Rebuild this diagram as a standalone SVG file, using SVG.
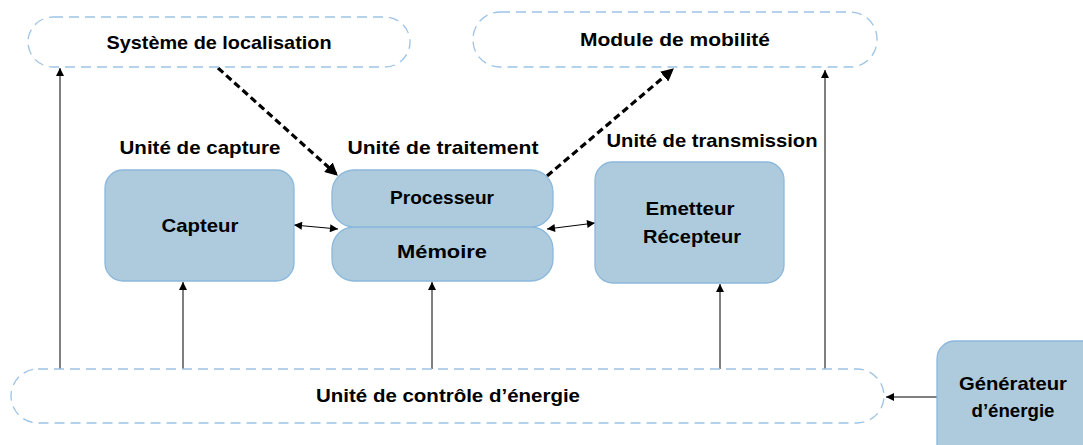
<svg xmlns="http://www.w3.org/2000/svg" width="1083" height="445" viewBox="0 0 1083 445">
<style>
.pill{fill:#ffffff;stroke:#9dc3e6;stroke-width:1.3;stroke-dasharray:10 6}
.box{fill:#adcbdd;stroke:#8cb8dc;stroke-width:1.3}
.t{font-family:"Liberation Sans",Arial,sans-serif;font-weight:bold;font-size:19px;fill:#000;text-anchor:middle}
.ln{stroke:#000;stroke-width:1;fill:none}
.dash{stroke:#000;stroke-width:3.2;stroke-dasharray:7 4;fill:none}
</style>
<defs>
<marker id="ah" viewBox="0 0 10 10" refX="10" refY="5" markerWidth="10" markerHeight="8" markerUnits="userSpaceOnUse" orient="auto-start-reverse">
<path d="M0,0 L10,5 L0,10 Z" fill="#000"/>
</marker>
<marker id="ahb" viewBox="0 0 10 10" refX="8" refY="5" markerWidth="4" markerHeight="4" orient="auto">
<path d="M0,0 L10,5 L0,10 Z" fill="#000"/>
</marker>
</defs>
<rect width="1083" height="445" fill="#ffffff"/>
<g id="connectors">
<line class="ln" x1="60" y1="369" x2="60" y2="68" marker-end="url(#ah)"/>
<line class="ln" x1="183" y1="369" x2="183" y2="282" marker-end="url(#ah)"/>
<line class="ln" x1="432" y1="369" x2="432" y2="282" marker-end="url(#ah)"/>
<line class="ln" x1="720" y1="369" x2="720" y2="284" marker-end="url(#ah)"/>
<line class="ln" x1="825" y1="369" x2="825" y2="70" marker-end="url(#ah)"/>
<line class="ln" x1="937" y1="397" x2="886" y2="397" marker-end="url(#ah)"/>
<line class="ln" x1="294" y1="225" x2="338" y2="229" marker-start="url(#ah)" marker-end="url(#ah)"/>
<line class="ln" x1="547" y1="229" x2="595" y2="223" marker-start="url(#ah)" marker-end="url(#ah)"/>
<line class="dash" x1="218" y1="68" x2="336" y2="174" marker-end="url(#ahb)"/>
<line class="dash" x1="547" y1="176" x2="672" y2="70" marker-end="url(#ahb)"/>
</g>
<g id="localisation">
<rect class="pill" x="28" y="17" width="382" height="50" rx="25"/>
<text class="t" x="219" y="49" textLength="225" lengthAdjust="spacingAndGlyphs">Système de localisation</text>
</g>
<g id="mobilite">
<rect class="pill" x="473" y="12" width="404" height="55" rx="27"/>
<text class="t" x="675" y="46" textLength="190" lengthAdjust="spacingAndGlyphs">Module de mobilité</text>
</g>
<g id="capture">
<text class="t" x="200" y="154" textLength="161" lengthAdjust="spacingAndGlyphs">Unité de capture</text>
<rect class="box" x="105" y="170" width="189" height="111" rx="18"/>
<text class="t" x="200" y="232" textLength="77" lengthAdjust="spacingAndGlyphs">Capteur</text>
</g>
<g id="traitement">
<text class="t" x="443" y="154" textLength="191" lengthAdjust="spacingAndGlyphs">Unité de traitement</text>
<rect class="box" x="332" y="227" width="221" height="54" rx="22"/>
<rect class="box" x="332" y="170" width="221" height="57" rx="22"/>
<text class="t" x="442" y="204" textLength="104" lengthAdjust="spacingAndGlyphs">Processeur</text>
<text class="t" x="442" y="258" textLength="90" lengthAdjust="spacingAndGlyphs">Mémoire</text>
</g>
<g id="transmission">
<text class="t" x="712" y="147" textLength="211" lengthAdjust="spacingAndGlyphs">Unité de transmission</text>
<rect class="box" x="595" y="162" width="189" height="121" rx="18"/>
<text class="t" x="690" y="215" textLength="89" lengthAdjust="spacingAndGlyphs">Emetteur</text>
<text class="t" x="692" y="243" textLength="98" lengthAdjust="spacingAndGlyphs">Récepteur</text>
</g>
<g id="controle">
<rect class="pill" x="11" y="369" width="873" height="54" rx="27"/>
<text class="t" x="448" y="402" textLength="264" lengthAdjust="spacingAndGlyphs">Unité de contrôle d’énergie</text>
</g>
<g id="generateur">
<rect class="box" x="937" y="341" width="170" height="130" rx="18"/>
<text class="t" x="1013" y="390" textLength="108" lengthAdjust="spacingAndGlyphs">Générateur</text>
<text class="t" x="1013" y="417" textLength="83" lengthAdjust="spacingAndGlyphs">d’énergie</text>
</g>
</svg>
